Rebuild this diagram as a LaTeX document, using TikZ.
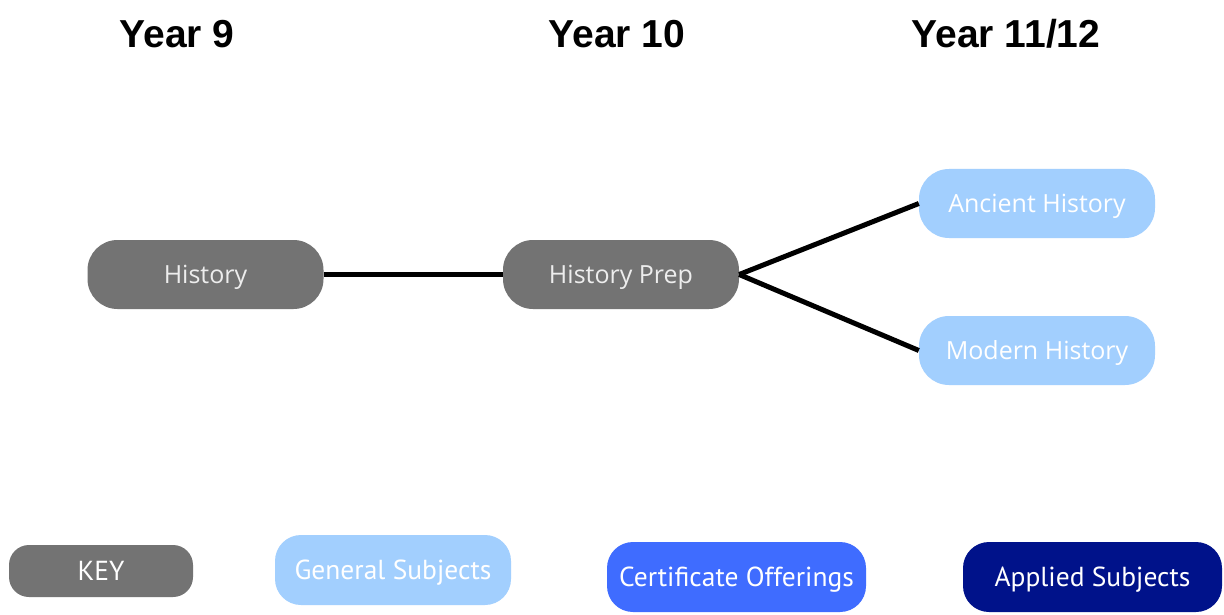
\documentclass[tikz,border=0pt]{standalone}
\usepackage{fontspec}
\setmainfont{Liberation Sans}
\newfontfamily\nodefont{Open Sans}
\newfontfamily\keyfont{PT Sans}
\begin{document}
\definecolor{pillgray}{HTML}{737373}
\definecolor{general}{HTML}{A2CFFE}
\definecolor{certificate}{HTML}{3F6CFF}
\definecolor{applied}{HTML}{00128A}
\begin{tikzpicture}[x=1pt,y=-1pt,
  heading/.style={font=\fontsize{39}{43}\selectfont\bfseries, text=black},
  pill/.style={rounded corners=30pt, minimum width=236pt, minimum height=69pt,
    inner sep=0pt, text height=17.8pt, text depth=0pt,
    font=\nodefont\fontsize{25}{28}\selectfont},
  graypill/.style={pill, fill=pillgray, text=white!93!black},
  bluepill/.style={pill, fill=general, text=white},
  keypill/.style={rounded corners=26pt, minimum height=70pt, inner sep=0pt,
    text height=19pt, text depth=0pt,
    font=\keyfont\fontsize{27.5}{30}\selectfont, text=white},
  link/.style={line width=5pt, black}]
\useasboundingbox (0,0) rectangle (1224,615);
\fill[white] (0,0) rectangle (1224,615);

% column headings
\node[heading] (h9)  at (177,34) {Year 9};
\node[heading] (h10) at (617,34) {Year 10};
\node[heading] (h11) at (1006,34) {Year 11/12};

% pathway
\node[graypill] (hist) at (205.5,274.5) {History};
\node[graypill] (prep) at (621,274.5) {History Prep};
\node[bluepill] (anc)  at (1037,203.5) {Ancient History};
\node[bluepill] (mod)  at (1037,350.5) {Modern History};

\draw[link] (hist.east) -- (prep.west);
\draw[link] (prep.east) -- (anc.west);
\draw[link] (prep.east) -- (mod.west);

% key
\node[keypill, fill=pillgray, minimum width=184pt, minimum height=52pt, rounded corners=20pt] (key) at (101,571) {KEY};
\node[keypill, fill=general, minimum width=236pt] (gen) at (393,570) {General Subjects};
\node[keypill, fill=certificate, minimum width=259pt] (cert) at (736.5,577) {Certificate Offerings};
\node[keypill, fill=applied, minimum width=259pt] (appl) at (1092.5,577) {Applied Subjects};
\end{tikzpicture}
\end{document}
